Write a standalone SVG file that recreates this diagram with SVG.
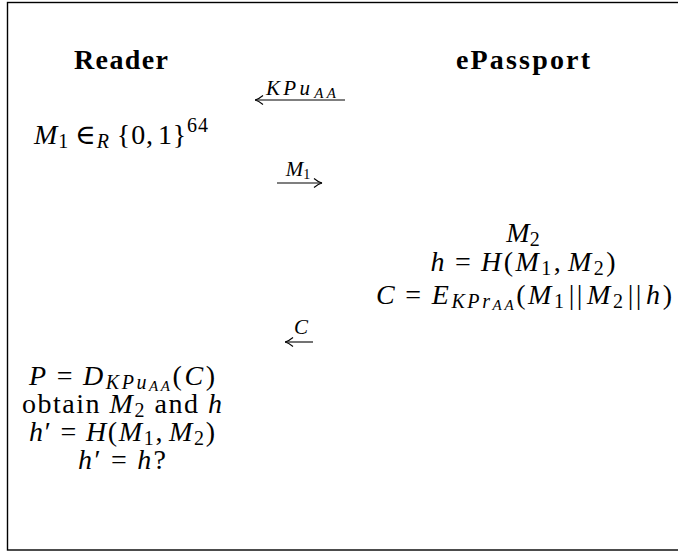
<svg xmlns="http://www.w3.org/2000/svg" width="678" height="551" viewBox="0 0 678 551">
<style>
  text { font-family: "Liberation Serif", "DejaVu Serif", serif; font-size: 28px; fill: #000; }
  .b { font-weight: bold; font-size: 28px; }
  .i { font-style: italic; }
  .s { font-size: 20px; }
  .ss { font-size: 15px; font-style: italic; }
  .lbl { font-size: 21px; }
  .arr { stroke: #000; stroke-width: 1.1; fill: none; }
</style>
<defs>
  <marker id="head" viewBox="0 0 10 10" refX="9.5" refY="5" markerWidth="10" markerHeight="10" markerUnits="userSpaceOnUse" orient="auto-start-reverse">
    <path d="M1.5,0.5 Q6,4.3 9.5,5 Q6,5.7 1.5,9.5" stroke="#000" stroke-width="1.1" fill="none"/>
  </marker>
</defs>
<rect x="7.5" y="2.5" width="690" height="547.5" fill="none" stroke="#000" stroke-width="1.4"/>

<g id="reader-title"><text class="b" x="121" y="69" text-anchor="middle" textLength="94">Reader</text></g>
<g id="passport-title"><text class="b" x="523" y="69" text-anchor="middle" textLength="134">ePassport</text></g>

<g id="reader-step1">
  <text x="121" y="144" text-anchor="middle" textLength="174"><tspan class="i">M</tspan><tspan class="s" dy="4">1</tspan><tspan dy="-4" dx="6">∈</tspan><tspan class="i s" dy="4">R</tspan><tspan dy="-4" dx="7">{0,</tspan><tspan dx="4">1}</tspan><tspan class="s" dy="-12">64</tspan></text>
</g>

<g id="passport-step">
  <text x="523" y="242" text-anchor="middle"><tspan class="i">M</tspan><tspan class="s" dy="4">2</tspan></text>
  <text x="523" y="271" text-anchor="middle" textLength="185"><tspan class="i">h</tspan><tspan dx="8">=</tspan><tspan class="i" dx="8">H</tspan>(<tspan class="i">M</tspan><tspan class="s" dy="4">1</tspan><tspan dy="-4">,</tspan><tspan class="i" dx="5">M</tspan><tspan class="s" dy="4">2</tspan><tspan dy="-4">)</tspan></text>
  <text x="524" y="304" text-anchor="middle" textLength="296"><tspan class="i">C</tspan><tspan dx="8">=</tspan><tspan class="i" dx="8">E</tspan><tspan class="i s" dy="4">KPr</tspan><tspan class="ss" dy="2">AA</tspan><tspan dy="-6">(</tspan><tspan class="i">M</tspan><tspan class="s" dy="4">1</tspan><tspan dy="-4" dx="2">||</tspan><tspan class="i" dx="2">M</tspan><tspan class="s" dy="4">2</tspan><tspan dy="-4" dx="2">||</tspan><tspan class="i" dx="2">h</tspan>)</text>
</g>

<g id="reader-verify">
  <text x="122" y="385" text-anchor="middle" textLength="186"><tspan class="i">P</tspan><tspan dx="8">=</tspan><tspan class="i" dx="8">D</tspan><tspan class="i s" dy="4">KPu</tspan><tspan class="ss" dy="2">AA</tspan><tspan dy="-6">(</tspan><tspan class="i">C</tspan>)</text>
  <text x="122" y="413" text-anchor="middle" textLength="200">obtain <tspan class="i">M</tspan><tspan class="s" dy="4">2</tspan><tspan dy="-4"> and </tspan><tspan class="i">h</tspan></text>
  <text x="122" y="441" text-anchor="middle" textLength="186"><tspan class="i">h</tspan>′<tspan dx="8">=</tspan><tspan class="i" dx="8">H</tspan>(<tspan class="i">M</tspan><tspan class="s" dy="4">1</tspan><tspan dy="-4">,</tspan><tspan class="i" dx="5">M</tspan><tspan class="s" dy="4">2</tspan><tspan dy="-4">)</tspan></text>
  <text x="122" y="469" text-anchor="middle" textLength="88"><tspan class="i">h</tspan>′<tspan dx="8">=</tspan><tspan class="i" dx="8">h</tspan>?</text>
</g>

<g id="connectors">
  <g id="msg-kpu">
    <line class="arr" x1="345" y1="100" x2="255" y2="100" marker-end="url(#head)"/>
    <text class="lbl" x="301" y="95" text-anchor="middle" textLength="70"><tspan class="i">KPu</tspan><tspan class="ss" dx="1" dy="3">AA</tspan></text>
  </g>
  <g id="msg-m1">
    <line class="arr" x1="277" y1="183" x2="322" y2="183" marker-end="url(#head)"/>
    <text class="lbl" x="298" y="176" text-anchor="middle"><tspan class="i">M</tspan><tspan font-size="14" dy="3">1</tspan></text>
  </g>
  <g id="msg-c">
    <line class="arr" x1="313" y1="342" x2="285" y2="342" marker-end="url(#head)"/>
    <text class="lbl i" x="301" y="334" text-anchor="middle">C</text>
  </g>
</g>
</svg>
